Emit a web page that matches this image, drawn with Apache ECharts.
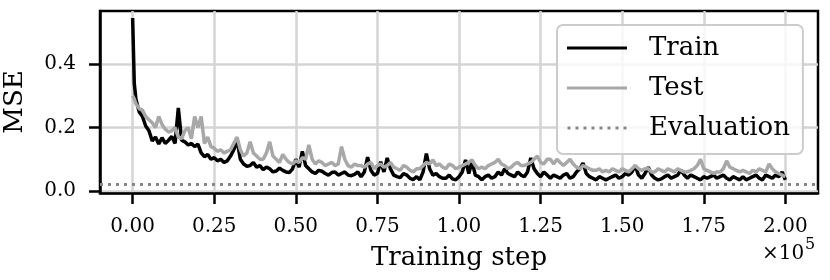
<!DOCTYPE html>
<html><head><meta charset="utf-8">
<script src="https://cdn.jsdelivr.net/npm/echarts@6/dist/echarts.min.js"></script>
<style>html,body{margin:0;padding:0;background:#fff}#c{width:830px;height:280px}</style>
</head><body><div id="c"></div>
<script>
// training steps, in thousands
const stepsK = [0,0.5,1,2,3,4,5,6,7,8,9,
10,11,12,13,14,15,16,17,18,19,20,21,22,23,24,25,26,27,28,29,
30,31,32,33,34,35,36,37,38,39,40,41,42,43,44,45,46,47,48,49,
50,51,52,53,54,55,56,57,58,59,60,61,62,63,64,65,66,67,68,69,
70,71,72,73,74,75,76,77,78,79,80,81,82,83,84,85,86,87,88,89,
90,91,92,93,94,95,96,97,98,99,100,101,102,103,104,105,106,107,108,109,
110,111,112,113,114,115,116,117,118,119,120,121,122,123,124,125,126,127,128,129,
130,131,132,133,134,135,136,137,138,139,140,141,142,143,144,145,146,147,148,149,
150,151,152,153,154,155,156,157,158,159,160,161,162,163,164,165,166,167,168,169,
170,171,172,173,174,175,176,177,178,179,180,181,182,183,184,185,186,187,188,189,
190,191,192,193,194,195,196,197,198,199,200];
const train = [0.546,0.34,0.29,0.25,0.235,0.205,0.19,0.158,0.17,0.148,0.168,
0.15,0.16,0.172,0.15,0.262,0.16,0.155,0.145,0.15,0.14,0.148,0.12,0.108,0.115,0.1,0.105,0.095,0.1,0.09,0.095,
0.11,0.13,0.16,0.1,0.085,0.078,0.08,0.09,0.075,0.08,
0.067,0.075,0.07,0.06,0.063,0.072,0.065,0.06,0.058,0.07,
0.1,0.075,0.125,0.08,0.07,0.06,0.055,0.065,0.062,0.055,
0.05,0.058,0.06,0.05,0.055,0.06,0.05,0.048,0.052,0.06,
0.045,0.06,0.107,0.065,0.05,0.055,0.092,0.06,0.104,0.07,
0.05,0.045,0.042,0.055,0.05,0.04,0.036,0.045,0.035,0.06,
0.118,0.07,0.05,0.055,0.045,0.04,0.04,0.05,0.038,0.035,
0.045,0.06,0.098,0.055,0.093,0.05,0.045,0.035,0.045,0.05,
0.04,0.045,0.06,0.05,0.07,0.055,0.05,0.045,0.06,0.05,
0.045,0.06,0.104,0.07,0.055,0.045,0.06,0.05,0.04,0.05,
0.045,0.04,0.05,0.055,0.04,0.045,0.06,0.07,0.088,0.055,
0.045,0.04,0.035,0.045,0.04,0.035,0.04,0.045,0.05,0.04,
0.045,0.055,0.05,0.06,0.08,0.05,0.04,0.055,0.075,0.05,
0.04,0.035,0.038,0.045,0.05,0.04,0.045,0.05,0.066,0.05,
0.04,0.05,0.045,0.04,0.035,0.045,0.04,0.045,0.05,0.04,
0.045,0.05,0.04,0.035,0.045,0.04,0.035,0.045,0.035,0.04,
0.045,0.05,0.04,0.035,0.05,0.045,0.04,0.05,0.045,0.06,
0.035];
const test = [0.30,0.29,0.275,0.26,0.255,0.235,0.225,0.215,0.2,0.235,0.21,
0.195,0.186,0.19,0.2,0.17,0.165,0.19,0.2,0.165,0.235,0.2,0.235,0.15,0.17,0.14,0.135,0.125,0.13,0.12,0.125,
0.13,0.15,0.17,0.13,0.11,0.12,0.155,0.12,0.11,0.1,
0.1,0.12,0.155,0.11,0.1,0.09,0.115,0.1,0.09,0.085,
0.095,0.09,0.105,0.1,0.145,0.1,0.085,0.095,0.09,0.08,
0.085,0.09,0.08,0.085,0.14,0.1,0.08,0.075,0.085,0.08,
0.08,0.075,0.085,0.09,0.07,0.08,0.085,0.075,0.08,0.09,
0.075,0.07,0.065,0.08,0.075,0.065,0.06,0.07,0.07,0.08,
0.09,0.085,0.098,0.08,0.085,0.075,0.07,0.085,0.08,0.07,
0.075,0.08,0.085,0.09,0.098,0.08,0.07,0.075,0.07,0.08,
0.085,0.09,0.1,0.085,0.08,0.07,0.075,0.085,0.09,0.08,
0.08,0.085,0.09,0.1,0.11,0.09,0.085,0.1,0.1,0.085,
0.1,0.09,0.08,0.09,0.1,0.085,0.075,0.07,0.08,0.075,
0.07,0.065,0.065,0.07,0.06,0.065,0.06,0.07,0.065,0.06,
0.07,0.065,0.06,0.07,0.08,0.07,0.065,0.07,0.07,0.06,
0.06,0.07,0.065,0.06,0.07,0.065,0.06,0.07,0.065,0.06,
0.06,0.065,0.07,0.08,0.1,0.07,0.065,0.06,0.055,0.06,
0.06,0.07,0.095,0.075,0.07,0.065,0.06,0.065,0.06,0.055,
0.065,0.06,0.07,0.065,0.06,0.085,0.07,0.06,0.055,0.05,
0.045];
const evaluation = [0.02];
const seriesNames = ['Train','Test','Evaluation'];
const xTicks = [0,25000,50000,75000,100000,125000,150000,175000,200000];
const yTicks = [0,0.2,0.4];

const FONT = '"DejaVu Serif", serif';
const chart = echarts.init(document.getElementById('c'), null, {renderer:'canvas'});
const pair = arr => stepsK.map((s,i)=>[s*1000, arr[i]]);
let dots = '';
for (let k=0;k<8;k++){ dots += 'M'+(k*8)+' 0h3v3h-3z '; }

chart.setOption({
  animation:false,
  backgroundColor:'#fff',
  grid:{left:100, right:12, top:11, bottom:87, show:true, borderColor:'#000', borderWidth:2.5, containLabel:false, outerBoundsMode:'none'},
  xAxis:{type:'value', min:-10000, max:210000,
    name:'Training step', nameLocation:'middle', nameGap:52,
    nameTextStyle:{fontFamily:FONT, fontSize:26, color:'#000'},
    axisLine:{show:true, onZero:false, lineStyle:{color:'#000', width:2.5}},
    axisTick:{show:true, length:11, customValues:xTicks, lineStyle:{color:'#000', width:2.5}},
    axisLabel:{customValues:xTicks, margin:24, fontFamily:FONT, fontSize:20, color:'#000', formatter:v=>(v/1e5).toFixed(2)},
    splitLine:{show:true, lineStyle:{color:'#d4d4d4', width:2.5}}
  },
  yAxis:{type:'value', min:-0.0065, max:0.568,
    name:'MSE', nameLocation:'middle', nameGap:72,
    nameTextStyle:{fontFamily:FONT, fontSize:26, color:'#000'},
    axisLine:{show:true, onZero:false, lineStyle:{color:'#000', width:2.5}},
    axisTick:{show:true, length:11, customValues:yTicks, lineStyle:{color:'#000', width:2.5}},
    axisLabel:{customValues:yTicks, margin:24, fontFamily:FONT, fontSize:20, color:'#000', formatter:v=>v.toFixed(1)},
    splitLine:{show:true, lineStyle:{color:'#d4d4d4', width:2.5}}
  },
  legend:{orient:'vertical', left:557, top:25, padding:[10,13,13,10], itemGap:14,
    itemWidth:60, itemHeight:3,
    backgroundColor:'rgba(255,255,255,0.8)', borderColor:'#cccccc', borderWidth:2, borderRadius:6,
    textStyle:{fontFamily:FONT, fontSize:26, color:'#000', padding:[0,0,0,17]},
    data:[{name:seriesNames[0], icon:'rect'},{name:seriesNames[1], icon:'rect'},{name:seriesNames[2], icon:'path://'+dots}]
  },
  series:[
    {name:seriesNames[0], type:'line', data:pair(train), symbol:'none', color:'#000', lineStyle:{color:'#000', width:3.5}, z:3},
    {name:seriesNames[1], type:'line', data:pair(test), symbol:'none', color:'#a8a8a8', lineStyle:{color:'#a8a8a8', width:3.5}, z:4},
    {name:seriesNames[2], type:'line', data:[], symbol:'none', color:'#888888', z:2,
      markLine:{silent:true, symbol:'none', label:{show:false},
        lineStyle:{color:'#888888', width:3, type:[3,5]},
        data:[{yAxis:evaluation[0]}]}}
  ],
  graphic:[
    {type:'text', left:762, top:244, style:{text:'×10', font:'20px "DejaVu Serif"', fill:'#000'}},
    {type:'text', left:805, top:237, style:{text:'5', font:'16px "DejaVu Serif"', fill:'#000'}}
  ]
});
</script></body></html>
